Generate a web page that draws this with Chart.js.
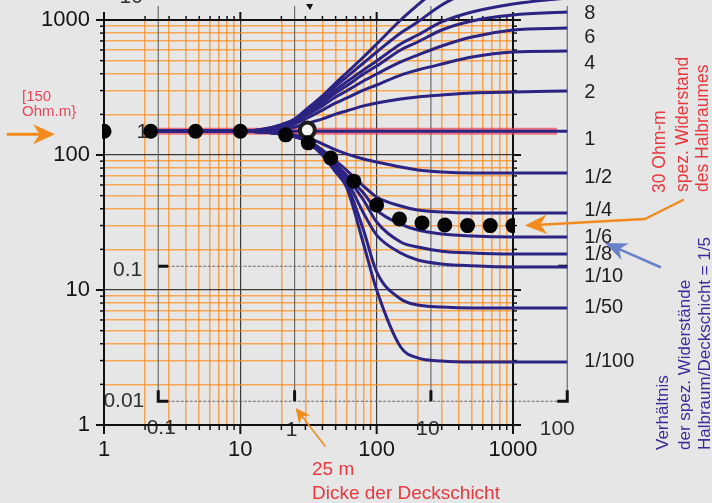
<!DOCTYPE html>
<html><head><meta charset="utf-8">
<script src="https://cdn.jsdelivr.net/npm/chart.js@4"></script>
<style>html,body{margin:0;padding:0;background:#e6e6e6;overflow:hidden}canvas{display:block}</style>
</head><body>
<canvas id="c" width="712" height="503"></canvas>
<script>
// ---------- data (main axes: spacing in m, apparent resistivity in Ohm.m) ----------
const spacing = [2.5, 10, 15, 20, 25, 30, 40, 50, 60, 80, 100, 150, 200, 300, 500, 1000, 2500];
const rho_50   = [150,150,156,168,185,215,274,341,405,532,664,1000,1292,1817,2783,3916,4642];
const rho_20   = [150,150,156,167,182,212,264,324,378,480,579,801,967,1292,1668,2154,2555];
const rho_10   = [150,150,154,164,179,205,251,303,347,426,497,664,774,967,1146,1314,1455];
const rho_8    = [150,150,153,163,176,201,243,288,324,398,456,600,687,843,983,1089,1146];
const rho_6    = [150,150,153,161,173,195,231,269,298,353,398,489,550,642,748,843,873];
const rho_4    = [150,150,152,158,170,185,215,243,264,303,330,391,426,472,532,579,589];
const rho_2    = [150,150,151,153,161,170,185,201,212,231,243,260,269,278,288,293,298];
const rho_1    = [150,150,150,150,150,150,150,150,150,150,150,150,150,150,150,150,150];
const rho_1_2  = [150,150,148,145,140,136,121,109,102,93.4,88.8,81.5,77.4,74.8,73.6,73.6,73.6];
const rho_1_4  = [150,150,148,143,138,131,109,90.3,77.4,58.9,48.9,41.9,39.1,37.8,37.2,37.2,37.2];
const rho_1_6  = [150,150,148,143,138,130,105,85.8,71.1,52.3,39.1,30.8,27.8,26.0,25.1,24.7,24.7];
const rho_1_8  = [150,150,148,143,138,129,103.5,82.9,68.7,46.4,31.9,22.7,20.8,19.4,18.8,18.5,18.5];
const rho_1_10 = [150,150,148,143,137,129,102,80.1,65.3,37.2,25.5,18.8,16.7,15.6,15.1,14.8,14.8];
const rho_1_20 = [150,150,148,143,137,128,100,77.4,61.0,27.8,13.6,8.58,7.74,7.48,7.36,7.36,7.36];
const rho_1_50 = [150,150,148,143,137,128,100,74.8,57.9,22,10,3.78,3.14,2.98,2.93,2.93,2.93];
const redBandSpacing = [2.5, 2100];
const redBandRho = [150, 150];

// measured sounding (black dots) and the marked point (hollow)
const measSpacing = [1, 2.2, 4.7, 10, 21.5, 31.5, 46, 68, 100, 147, 215, 316, 464, 681, 1000];
const measRho     = [150, 150, 150, 150, 141, 123, 95, 64, 42.6, 33.6, 31.4, 30.3, 30, 30, 30];
const markSpacing = [31];
const markRho     = [153];

// curve labels (right side)
const ratioLabels   = ['8','6','4','2','1','1/2','1/4','1/6','1/8','1/10','1/50','1/100'];
const ratioLabelRho = [1127, 748, 480, 288, 131, 68.7, 39.1, 24.7, 18.2, 12.7, 7.48, 2.93];

// axis ticks
const gridValues = [1,2,3,4,5,6,7,8,9,10,20,30,40,50,60,70,80,90,100,200,300,400,500,600,700,800,900,1000];
const majorValues = [1,10,100,1000];
// secondary (master curve) axes: t = spacing / h, r = rho_a / rho_1
const secXTicks = [0.1, 1, 10, 100];
const secXLabels = ['0.1','1','10','100'];
const secYTicks = [0.01, 0.1, 1, 10];
const secYLabels = ['0.01','0.1','1','10'];
const layerThickness = 25;   // m
const rhoTop = 150;          // Ohm.m

// ---------- build ----------
const FONT = '"Liberation Sans", Arial, Helvetica, sans-serif';
const toPts = (xs, ys) => xs.map((x, i) => ({x, y: ys[i]}));
const curves = [rho_50, rho_20, rho_10, rho_8, rho_6, rho_4, rho_2, rho_1,
                rho_1_2, rho_1_4, rho_1_6, rho_1_8, rho_1_10, rho_1_20, rho_1_50];
const CURVE = '#2c2482';
const datasets = [
  {data: toPts(measSpacing, measRho), showLine: false, pointRadius: 7.5, pointBackgroundColor: '#050505',
   pointBorderWidth: 0, order: 0, clip: {left: 2, right: 2, top: 10, bottom: 10}},
  {data: toPts(markSpacing, markRho), showLine: false, pointRadius: 7.5, pointBackgroundColor: '#f6f6f6',
   pointBorderColor: '#1e1e1e', pointBorderWidth: 4, order: 1, clip: false},
  ...curves.map(c => ({data: toPts(spacing, c), borderColor: CURVE, borderWidth: 3, pointRadius: 0,
      cubicInterpolationMode: 'monotone', fill: false, order: 2, clip: false})),
  {data: toPts(redBandSpacing, redBandRho), borderColor: 'rgba(236,72,92,0.72)', borderWidth: 7,
   pointRadius: 0, order: 3, clip: false}
];

function seg(ctx, x1, y1, x2, y2) { ctx.beginPath(); ctx.moveTo(x1, y1); ctx.lineTo(x2, y2); ctx.stroke(); }
function arrow(ctx, pts, color, lw, headLen, headHalf) {
  ctx.save();
  ctx.strokeStyle = color; ctx.fillStyle = color; ctx.lineWidth = lw; ctx.lineJoin = 'round'; ctx.lineCap = 'round';
  const n = pts.length, [tx, ty] = pts[n - 1], [px, py] = pts[n - 2];
  const a = Math.atan2(ty - py, tx - px), c = Math.cos(a), s = Math.sin(a);
  const bx = tx - headLen * c, by = ty - headLen * s;
  const nx = tx - headLen * 0.7 * c, ny = ty - headLen * 0.7 * s;
  ctx.beginPath(); ctx.moveTo(pts[0][0], pts[0][1]);
  for (let i = 1; i < n - 1; i++) ctx.lineTo(pts[i][0], pts[i][1]);
  ctx.lineTo(nx, ny); ctx.stroke();
  ctx.beginPath(); ctx.moveTo(tx, ty);
  ctx.lineTo(bx - headHalf * s, by + headHalf * c);
  ctx.lineTo(nx, ny);
  ctx.lineTo(bx + headHalf * s, by - headHalf * c);
  ctx.closePath(); ctx.fill();
  ctx.restore();
}
function vtext(ctx, str, cx, by, color, size) {
  ctx.save(); ctx.translate(cx, by); ctx.rotate(-Math.PI / 2);
  ctx.fillStyle = color; ctx.font = size + 'px ' + FONT; ctx.textAlign = 'left'; ctx.textBaseline = 'middle';
  ctx.fillText(str, 0, 0); ctx.restore();
}

const decor = {
  id: 'decor',
  beforeDraw(chart) {
    const ctx = chart.ctx; ctx.save(); ctx.fillStyle = '#e6e6e6'; ctx.fillRect(0, 0, chart.width, chart.height); ctx.restore();
  },
  beforeDatasetsDraw(chart) {
    const ctx = chart.ctx, xs = chart.scales.x, ys = chart.scales.y, A = chart.chartArea;
    const sx = t => xs.getPixelForValue(t * layerThickness);
    const sy = r => ys.getPixelForValue(r * rhoTop);
    ctx.save();
    // secondary grid
    ctx.strokeStyle = '#6a6a6a'; ctx.lineWidth = 1.2;
    const yb = sy(secYTicks[0]);
    secXTicks.forEach(t => seg(ctx, sx(t), 6, sx(t), yb));
    ctx.setLineDash([3, 1.5]);
    [secYTicks[0], secYTicks[1]].forEach(r => seg(ctx, sx(secXTicks[0]), sy(r), sx(secXTicks[3]), sy(r)));
    ctx.setLineDash([]);
    // secondary thick ticks / corners
    ctx.strokeStyle = '#111'; ctx.lineWidth = 3; ctx.lineCap = 'butt';
    const xl = sx(secXTicks[0]), xr = sx(secXTicks[3]);
    ctx.beginPath(); ctx.moveTo(xl, yb - 11); ctx.lineTo(xl, yb); ctx.lineTo(xl + 10, yb); ctx.stroke();
    ctx.beginPath(); ctx.moveTo(xr - 10, yb); ctx.lineTo(xr, yb); ctx.lineTo(xr, yb - 11); ctx.stroke();
    seg(ctx, xl, sy(secYTicks[1]), xl + 10, sy(secYTicks[1]));
    seg(ctx, xr - 9, sy(secYTicks[1]), xr, sy(secYTicks[1]));
    [secXTicks[1], secXTicks[2]].forEach(t => seg(ctx, sx(t), yb - 11, sx(t), yb));
    // small marker at top
    ctx.fillStyle = '#111';
    ctx.beginPath(); ctx.moveTo(306, 4); ctx.lineTo(313, 4); ctx.lineTo(310, 10); ctx.closePath(); ctx.fill();
    // secondary labels
    ctx.fillStyle = '#2e2e2e'; ctx.font = '21px ' + FONT; ctx.textBaseline = 'middle';
    ctx.textAlign = 'right';
    ctx.fillText(secYLabels[0], xl - 14, yb);
    ctx.fillText(secYLabels[1], xl - 16, sy(secYTicks[1]) + 4);
    ctx.fillText(secYLabels[2], xl - 10, sy(secYTicks[2]) + 1);
    ctx.textAlign = 'center';
    ctx.fillText(secYLabels[3], xl - 27, sy(secYTicks[3]) + 1);
    ctx.fillText(secXLabels[0], xl + 3, A.bottom + 3);
    ctx.fillText(secXLabels[1], sx(secXTicks[1]) - 3, A.bottom + 5);
    ctx.fillText(secXLabels[2], sx(secXTicks[2]) - 3, A.bottom + 4);
    ctx.fillText(secXLabels[3], sx(secXTicks[3]) - 10, A.bottom + 4);
    // main frame
    ctx.strokeStyle = '#111'; ctx.lineWidth = 2;
    seg(ctx, A.left, A.top, A.left, A.bottom);
    seg(ctx, A.right, A.top - 6, A.right, A.bottom + 6);
    seg(ctx, A.left - 7, A.bottom, A.right + 7, A.bottom);
    seg(ctx, A.left - 7, A.top, A.right + 7, A.top);
    gridValues.forEach(v => {
      const maj = majorValues.includes(v);
      const px = xs.getPixelForValue(v), py = ys.getPixelForValue(v);
      ctx.lineWidth = maj ? 2 : 1.5;
      const L = maj ? 8 : 4;
      seg(ctx, A.left - L, py, A.left, py);
      seg(ctx, A.right, py, A.right + L, py);
      seg(ctx, px, A.bottom, px, A.bottom + L + 1);
      seg(ctx, px, A.top - L, px, A.top);
    });
    ctx.restore();
  },
  afterDatasetsDraw(chart) {
    const ctx = chart.ctx, xs = chart.scales.x, ys = chart.scales.y, A = chart.chartArea;
    const xEnd = xs.getPixelForValue(secXTicks[3] * layerThickness);
    ctx.save();
    // ratio labels
    ctx.fillStyle = '#1e1e1e'; ctx.font = '20px ' + FONT; ctx.textAlign = 'left'; ctx.textBaseline = 'middle';
    ratioLabels.forEach((t, i) => ctx.fillText(t, xEnd + 17, ys.getPixelForValue(ratioLabelRho[i])));
    // left annotation
    const RED = '#e8383e', ORANGE = '#f28a1e';
    ctx.fillStyle = '#e9485a'; ctx.font = '15px ' + FONT;
    ctx.fillText('[150', 22, 97);
    ctx.fillText('Ohm.m}', 22, 112);
    arrow(ctx, [[8, ys.getPixelForValue(rhoTop) + 3], [55, ys.getPixelForValue(rhoTop) + 3]], ORANGE, 3, 22, 10);
    // bottom annotation
    ctx.fillStyle = RED; ctx.font = '19px ' + FONT;
    ctx.fillText('25 m', 312, 470);
    ctx.fillText('Dicke der Deckschicht', 312, 494);
    arrow(ctx, [[325, 446], [xs.getPixelForValue(layerThickness) + 1, 408]], ORANGE, 1.6, 15, 7);
    // right red annotation + arrow
    const yHalf = ys.getPixelForValue(30);
    arrow(ctx, [[683, 200], [645, 219], [A.right + 12, yHalf]], ORANGE, 2.5, 22, 10);
    vtext(ctx, '30 Ohm-m', 660, 193, RED, 17.5);
    vtext(ctx, 'spez. Widerstand', 683, 192, RED, 17.5);
    vtext(ctx, 'des Halbraumes', 703, 192, RED, 17.5);
    // blue arrow + purple text
    arrow(ctx, [[660, 267], [605, 243]], '#6a80c6', 2.5, 22, 9);
    const PURPLE = '#3d2c98';
    vtext(ctx, 'Verhältnis', 663, 450, PURPLE, 17);
    vtext(ctx, 'der spez. Widerstände', 685, 450, PURPLE, 17);
    vtext(ctx, 'Halbraum/Deckschicht = 1/5', 705, 450, PURPLE, 17);
    ctx.restore();
  }
};

const axisCommon = (isX) => ({
  type: 'logarithmic',
  afterDataLimits: s => { s.min = 1; s.max = 1000; },
  afterBuildTicks: s => { s.ticks = gridValues.map(v => ({value: v})); },
  grid: {
    drawTicks: false,
    color: c => majorValues.includes(c.tick && c.tick.value) ? '#3a3a3a' : 'rgba(255,140,25,0.72)',
    lineWidth: c => majorValues.includes(c.tick && c.tick.value) ? 1.2 : 1.6
  },
  border: {display: false},
  ticks: {
    autoSkip: false, maxRotation: 0, minRotation: 0,
    padding: isX ? 12 : 14,
    color: '#151515', font: {family: FONT, size: 22},
    callback: v => majorValues.includes(v) ? String(v) : ''
  }
});

const xAxis = Object.assign(axisCommon(true), {position: 'bottom',
  afterFit: s => { s.height = 78; s.paddingLeft = 0; s.paddingRight = 0; }});
const yAxis = Object.assign(axisCommon(false), {position: 'left',
  afterFit: s => { s.width = 104; s.paddingTop = 0; s.paddingBottom = 0; }});

new Chart(document.getElementById('c'), {
  type: 'line',
  data: {datasets},
  options: {
    responsive: false, animation: false, devicePixelRatio: 1,
    layout: {padding: {left: 0, top: 20, right: 199, bottom: 0}},
    plugins: {legend: {display: false}, tooltip: {enabled: false}},
    scales: {x: xAxis, y: yAxis}
  },
  plugins: [decor]
});
</script>
</body></html>
